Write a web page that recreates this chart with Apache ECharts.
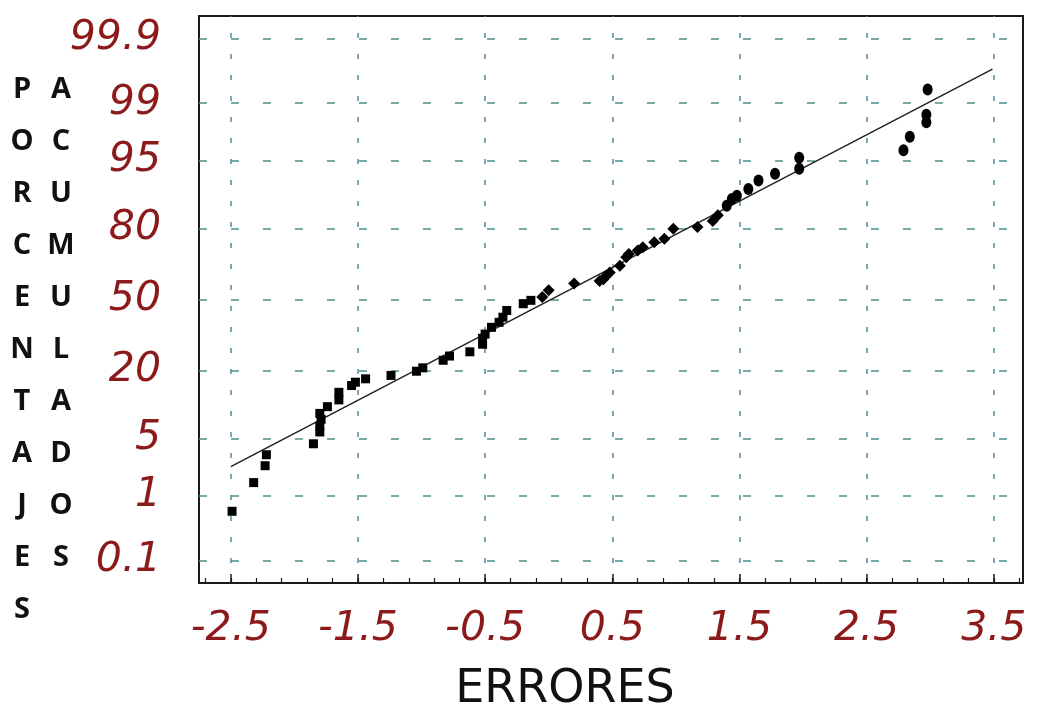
<!DOCTYPE html>
<html>
<head>
<meta charset="utf-8">
<script src="https://cdn.jsdelivr.net/npm/echarts@6/dist/echarts.min.js"></script>
<style>
  html, body { margin: 0; padding: 0; background: #fff; }
  #probchart { width: 1037px; height: 711px; }
</style>
</head>
<body>
<div id="probchart"></div>
<script>
  // etiquetas del eje de probabilidad (%) y del eje de errores
  const probLabels = ['0.1', '1', '5', '20', '50', '80', '95', '99', '99.9']
  const errorTicks = [-2.5, -1.5, -0.5, 0.5, 1.5, 2.5, 3.5]

  // puntos: x = error, z = puntuacion normal
  const squareX = [-2.49, -2.32, -2.23, -2.22, -1.85, -1.80, -1.80, -1.79, -1.80, -1.74, -1.65, -1.65, -1.55, -1.52, -1.44, -1.24,
    -1.04, -0.99, -0.83, -0.78, -0.62, -0.52, -0.52, -0.50, -0.45, -0.39, -0.36, -0.33, -0.20, -0.14]
  const squareZ = [-2.51, -2.17, -1.97, -1.84, -1.71, -1.57, -1.50, -1.42, -1.35, -1.27, -1.19, -1.10, -1.02, -0.98, -0.94, -0.90,
    -0.85, -0.81, -0.72, -0.67, -0.62, -0.53, -0.46, -0.41, -0.33, -0.27, -0.21, -0.13, -0.05, -0.01]

  const diamondX = [-0.05, 0.00, 0.20, 0.40, 0.43, 0.45, 0.48, 0.56, 0.61, 0.63, 0.70, 0.74, 0.83, 0.91, 0.98, 1.17, 1.29, 1.33]
  const diamondZ = [0.03, 0.11, 0.19, 0.22, 0.24, 0.28, 0.32, 0.40, 0.50, 0.54, 0.58, 0.62, 0.68, 0.72, 0.84, 0.86, 0.93, 1.00]

  const circleX = [1.40, 1.44, 1.48, 1.57, 1.65, 1.78, 1.97, 1.97, 2.79, 2.84, 2.97, 2.97, 2.98]
  const circleZ = [1.11, 1.19, 1.23, 1.31, 1.41, 1.49, 1.55, 1.68, 1.77, 1.93, 2.10, 2.19, 2.49]

  // recta ajustada
  const fitX = [-2.5, 3.49]
  const fitZ = [-1.98, 2.73]

  // inversa de la normal (Abramowitz-Stegun 26.2.23)
  function probit(p) {
    const q = p < 0.5 ? p : 1 - p
    const t = Math.sqrt(-2 * Math.log(q))
    const z = t - (2.515517 + 0.802853 * t + 0.010328 * t * t) / (1 + 1.432788 * t + 0.189269 * t * t + 0.001308 * t * t * t)
    return p < 0.5 ? -z : z
  }
  const probZ = probLabels.map(s => probit(parseFloat(s) / 100))

  const minorTicks = []
  for (let i = 0; i <= 32; i++) minorTicks.push(Math.round((-2.7 + i * 0.2) * 10) / 10)

  const pairs = (xs, ys) => xs.map((v, i) => [v, ys[i]])

  const red = '#8c1a1a'
  const gridColor = '#4f8f8f'
  const chart = echarts.init(document.getElementById('probchart'))
  chart.setOption({
    animation: false,
    backgroundColor: '#fff',
    grid: {
      left: 199, right: 14, top: 16, bottom: 128,
      outerBoundsMode: 'none',
      show: true, borderColor: '#1a1a1a', borderWidth: 2
    },
    xAxis: [
      {
        type: 'value',
        min: -2.75,
        max: 3.73,
        position: 'bottom',
        name: 'ERRORES',
        nameLocation: 'middle',
        nameGap: 84,
        nameTextStyle: {
          fontFamily: 'DejaVu Sans', fontSize: 46, color: '#111',
          padding: [0, 92, 0, 0]
        },
        axisLine: { show: false, onZero: false },
        axisTick: {
          show: true, inside: true, length: 9, customValues: errorTicks,
          lineStyle: { color: '#1a1a1a', width: 1.5 }
        },
        axisLabel: {
          customValues: errorTicks,
          margin: 26,
          color: red,
          fontFamily: 'DejaVu Sans',
          fontStyle: 'italic',
          fontSize: 41,
          formatter: v => String(v)
        },
        splitLine: {
          show: true,
          lineStyle: { color: gridColor, width: 1.5, type: [5, 16], dashOffset: 4 }
        }
      },
      {
        type: 'value',
        min: -2.75,
        max: 3.73,
        position: 'bottom',
        axisLine: { show: false, onZero: false },
        axisTick: {
          show: true, inside: true, length: 5, customValues: minorTicks,
          lineStyle: { color: '#1a1a1a', width: 1.2 }
        },
        axisLabel: { show: false },
        splitLine: { show: false }
      }
    ],
    yAxis: {
      type: 'value',
      min: -3.36,
      max: 3.36,
      axisLine: { show: false, onZero: false },
      axisTick: { show: false, customValues: probZ },
      axisLabel: {
        customValues: probZ,
        margin: 38,
        color: red,
        fontFamily: 'DejaVu Sans',
        fontStyle: 'italic',
        fontSize: 41,
        formatter: v => {
          const i = probZ.findIndex(z => Math.abs(z - v) < 1e-6)
          return i >= 0 ? probLabels[i] : ''
        }
      },
      splitLine: {
        show: true,
        lineStyle: { color: gridColor, width: 1.5, type: [8, 24] }
      }
    },
    graphic: [
      {
        type: 'text', x: 22, y: 64,
        style: {
          text: 'PORCENTAJES'.split('').join('\n'),
          fontFamily: 'Open Sans', fontWeight: 'bold', fontSize: 29,
          lineHeight: 52, align: 'center', verticalAlign: 'top', fill: '#111'
        }
      },
      {
        type: 'text', x: 61, y: 64,
        style: {
          text: 'ACUMULADOS'.split('').join('\n'),
          fontFamily: 'Open Sans', fontWeight: 'bold', fontSize: 29,
          lineHeight: 52, align: 'center', verticalAlign: 'top', fill: '#111'
        }
      }
    ],
    series: [
      {
        type: 'line',
        data: pairs(fitX, fitZ),
        symbol: 'none',
        lineStyle: { color: '#222', width: 1.5 },
        z: 3
      },
      {
        type: 'scatter',
        data: pairs(squareX, squareZ),
        symbol: 'rect',
        symbolSize: 9,
        itemStyle: { color: '#000', opacity: 1 },
        z: 4
      },
      {
        type: 'scatter',
        data: pairs(diamondX, diamondZ),
        symbol: 'diamond',
        symbolSize: 12,
        itemStyle: { color: '#000', opacity: 1 },
        z: 4
      },
      {
        type: 'scatter',
        data: pairs(circleX, circleZ),
        symbol: 'circle',
        symbolSize: [10, 12],
        itemStyle: { color: '#000', opacity: 1 },
        z: 4
      }
    ]
  })
</script>
</body>
</html>
